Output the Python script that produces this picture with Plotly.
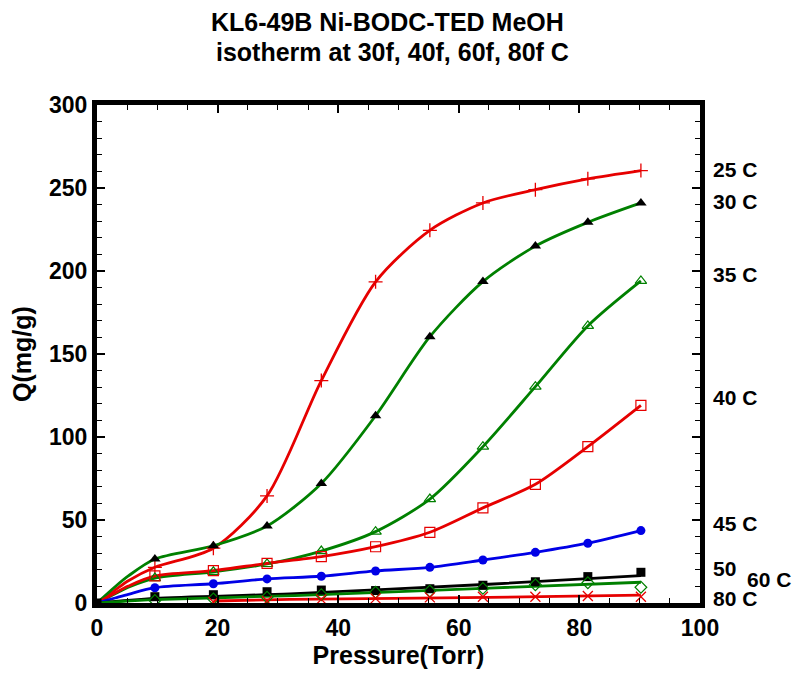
import plotly.graph_objects as go

# ---------------- data ----------------
pressure = [9.6, 19.3, 28.2, 37.2, 46.2, 55.2, 64.0, 72.7, 81.4, 90.2]

q25 = [21.5, 33.0, 64.5, 134.0, 193.5, 224.5, 241.0, 249.0, 255.5, 260.5]
q30 = [26.5, 34.5, 46.4, 72.0, 112.8, 160.4, 193.6, 215.0, 229.3, 241.0]
q35 = [15.0, 18.8, 23.5, 31.3, 43.0, 62.6, 94.2, 130.3, 166.9, 194.0]
q40 = [16.3, 19.5, 23.9, 27.9, 33.9, 42.6, 57.3, 71.5, 94.2, 119.1]
q45 = [9.2, 11.6, 14.5, 16.1, 19.3, 21.5, 25.9, 30.5, 36.0, 43.6]
q50 = [3.8, 5.0, 6.8, 7.8, 7.5, 8.6, 10.7, 12.8, 15.9, 18.5]
q60 = [1.5, 2.5, 3.5, 5.0, 6.5, 7.2, 8.8, 11.0, 12.2, 9.5]
pressure80 = [19.3, 28.2, 37.2, 46.2, 55.2, 64.0, 72.7, 81.4, 90.2]
q80 = [0.6, 1.2, 2.2, 2.8, 3.4, 3.8, 3.8, 4.2, 3.8]

# fitted curves (low-pressure part)
fit_p_low = [0.0, 3.0, 5.2]
fit25_low = [0.0, 7.8, 13.4]
fit30_low = [0.0, 9.8, 16.3]
fit35_low = [0.0, 5.5, 9.5]
fit40_low = [0.0, 6.0, 10.2]
fit45_low = [0.0, 3.0, 5.2]

fit50_p = [0.0, 9.6, 32.0, 65.0, 90.2]
fit50_q = [0.0, 2.8, 5.5, 11.3, 16.5]
fit60_p = [0.0, 9.6, 32.8, 65.0, 90.2]
fit60_q = [0.0, 2.0, 4.5, 9.0, 12.5]
fit80_p = [19.3, 32.0, 65.0, 90.2]
fit80_q = [1.2, 2.2, 3.4, 4.8]

labels = ["25 C", "30 C", "35 C", "40 C", "45 C", "50", "60 C", "80 C"]
label_q = [261, 242, 198, 124, 48, 21, 14, 3]

title_lines = ["KL6-49B Ni-BODC-TED MeOH", "isotherm at 30f, 40f, 60f, 80f C"]

# ---------------- styling ----------------
RED = "#e60000"
GREEN = "#008000"
BLUE = "#0000e6"
BLACK = "#000000"
FONT = "Liberation Sans, Arial, sans-serif"

fig = go.Figure()

curves = [
    (fit_p_low + pressure, fit25_low + q25, RED),
    (fit_p_low + pressure, fit30_low + q30, GREEN),
    (fit_p_low + pressure, fit35_low + q35, GREEN),
    (fit_p_low + pressure, fit40_low + q40, RED),
    (fit_p_low + pressure, fit45_low + q45, BLUE),
    (fit50_p, fit50_q, BLACK),
    (fit60_p, fit60_q, GREEN),
    (fit80_p, fit80_q, RED),
]
for cx, cy, col in curves:
    fig.add_trace(go.Scatter(x=cx, y=cy, mode="lines",
                             line=dict(color=col, width=2.8, shape="spline", smoothing=0.8),
                             hoverinfo="skip", showlegend=False))

markers = [
    (pressure, q25, "cross-thin", RED, 10, 1.3),
    (pressure, q30, "triangle-up", BLACK, 10, 0),
    (pressure, q35, "triangle-up-open", GREEN, 10, 1.2),
    (pressure, q40, "square-open", RED, 10, 1.2),
    (pressure, q45, "circle", BLUE, 9, 0),
    ([0.0] + pressure, [0.0] + q50, "square", BLACK, 9, 0),
    (pressure, q60, "diamond-open", GREEN, 9, 1.2),
    (pressure80, q80, "x-thin", RED, 10, 1.3),
]
for mx, my, sym, col, sz, lw in markers:
    fig.add_trace(go.Scatter(x=mx, y=my, mode="markers",
                             marker=dict(symbol=sym, color=col, size=sz,
                                         line=dict(color=col, width=lw)),
                             showlegend=False))

for txt, q in zip(labels, label_q):
    xpos = 1.0 + (745 - 700) / 603 if txt == "60 C" else 1.0 + (711 - 700) / 603
    fig.add_annotation(x=xpos, y=q, xref="paper", yref="y", text=txt,
                       showarrow=False, xanchor="left", yanchor="middle",
                       font=dict(family=FONT, size=21, color="black", weight="bold"))

# title lines as annotations (paper coords: plot spans y=105..603 px)
for line, ypx, xpx in zip(title_lines, [22, 52], [387, 392]):
    fig.add_annotation(x=(xpx - 97) / 603, y=(603 - ypx) / 498, xref="paper", yref="paper",
                       text=line, showarrow=False, xanchor="center", yanchor="middle",
                       font=dict(family=FONT, size=25, color="black", weight="bold"))

axis_common = dict(
    showline=True, linewidth=5, linecolor="black", mirror="allticks",
    ticks="inside", ticklen=8, tickwidth=1.5, tickcolor="black",
    showgrid=False, zeroline=False,
    tickfont=dict(family=FONT, size=23, color="black", weight="bold"),
)

fig.update_xaxes(range=[0, 100], dtick=20, tick0=0,
                 minor=dict(dtick=5, ticks="inside", ticklen=5, tickcolor="black", tickwidth=1),
                 title=dict(text="Pressure(Torr)", standoff=8,
                            font=dict(family=FONT, size=25, color="black", weight="bold")),
                 **axis_common)
fig.update_yaxes(range=[0, 300], dtick=50, tick0=0,
                 minor=dict(dtick=10, ticks="inside", ticklen=5, tickcolor="black", tickwidth=1),
                 title=dict(text="Q(mg/g)", standoff=12,
                            font=dict(family=FONT, size=25, color="black", weight="bold")),
                 **axis_common)

fig.update_layout(
    width=796, height=677,
    margin=dict(l=97, r=96, t=105, b=74, autoexpand=False),
    paper_bgcolor="white", plot_bgcolor="white",
)

fig.write_html("out.html")
